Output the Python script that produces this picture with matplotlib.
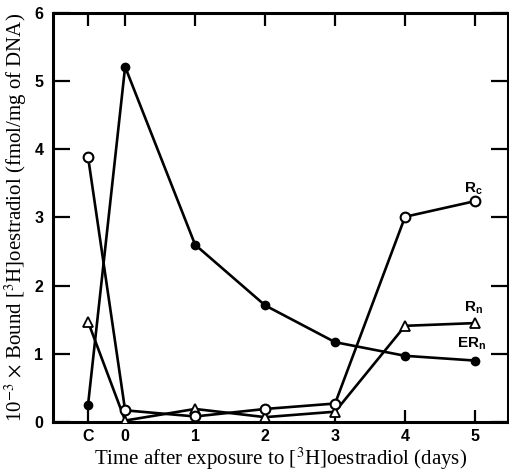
import matplotlib
matplotlib.use('Agg')
import matplotlib.pyplot as plt

plt.rcParams['mathtext.fontset'] = 'stix'

# x positions: control (C) sits left of day 0
x_pos = [-0.53, 0, 1, 2, 3, 4, 5]
x_labels = ['C', '0', '1', '2', '3', '4', '5']

er_n = [0.25, 5.21, 2.60, 1.71, 1.17, 0.97, 0.90]
r_c = [3.89, 0.17, 0.08, 0.19, 0.27, 3.01, 3.24]
r_n = [1.47, 0.02, 0.19, 0.07, 0.15, 1.41, 1.45]

fig = plt.figure(figsize=(5.10, 4.73), dpi=100)
ax = fig.add_axes([0.104, 0.108, 0.892, 0.8645])

lw = 1.9
ax.plot(x_pos, er_n, color='black', lw=lw, marker='o', ms=6,
        mfc='black', mec='black', zorder=3)
ax.plot(x_pos, r_n, color='black', lw=lw, marker='^', ms=6.5,
        mfc='white', mec='black', mew=1.3, zorder=4)
ax.plot(x_pos, r_c, color='black', lw=lw, marker='o', ms=7,
        mfc='white', mec='black', mew=1.5, zorder=5)

sans = 'Liberation Sans'
ax.text(4.98, 3.30, r'R$_{\mathregular{c}}$', family=sans, fontsize=11,
        fontweight='bold', ha='center', va='bottom')
ax.text(4.98, 1.55, r'R$_{\mathregular{n}}$', family=sans, fontsize=11,
        fontweight='bold', ha='center', va='bottom')
ax.text(4.95, 1.02, r'ER$_{\mathregular{n}}$', family=sans, fontsize=11,
        fontweight='bold', ha='center', va='bottom')

ax.set_xlim(-1.03, 5.47)
ax.set_ylim(0, 6)
ax.set_xticks(x_pos)
ax.set_xticklabels(x_labels)
ax.set_yticks([0, 1, 2, 3, 4, 5, 6])

for lab in ax.get_xticklabels() + ax.get_yticklabels():
    lab.set_family(sans)
    lab.set_fontweight('bold')
    lab.set_fontsize(11.5)

ax.tick_params(direction='in', length=9, width=1.6, top=True, right=True,
               pad=5)
ax.tick_params(axis='y', length=12, pad=7)
for sp in ax.spines.values():
    sp.set_linewidth(2.2)

ax.set_xlabel(r'Time after exposure to [$^{3}$H]oestradiol (days)',
              family='Liberation Serif', fontsize=15, labelpad=1)
ax.set_ylabel(r'10$^{-3}$ $\times$ Bound [$^{3}$H]oestradiol (fmol/mg of DNA)',
              family='Liberation Serif', fontsize=15, labelpad=4)

fig.savefig('out.png', dpi=100)
